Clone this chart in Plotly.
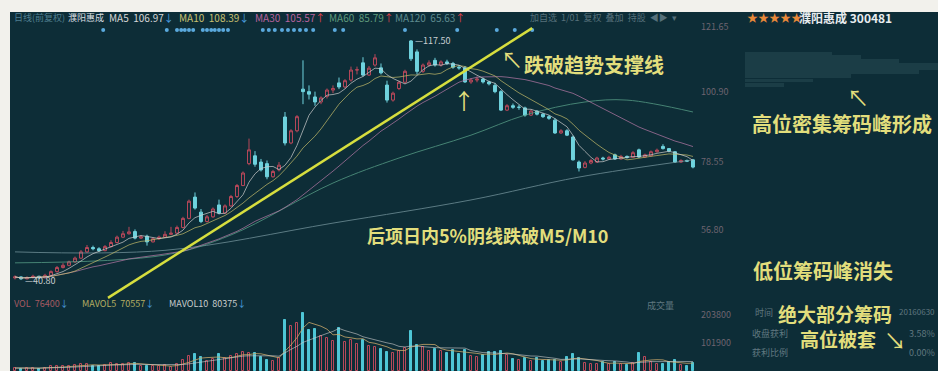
import plotly.graph_objects as go
import pandas as pd

# ---------------- data ----------------
OPEN = [41.5,41.8,41.2,41.6,42.0,41.5,42.3,43.5,44.8,45.5,46.6,47.8,49.8,51.2,50.8,50.2,51.5,52.8,54.5,55.6,
        56.3,54.2,54.8,53.0,54.0,54.5,55.4,55.8,57.6,60.5,67.3,62.5,59.5,61.0,64.8,62.2,64.5,67.5,71.0,78.0,
        80.5,78.5,78.0,73.8,76.0,92.9,84.6,88.5,101.8,101.0,99.3,97.7,99.5,101.5,103.8,102.5,104.7,107.9,110.2,106.3,
        109.5,108.6,103.1,98.3,102.0,104.0,117.2,113.7,107.5,109.5,111.0,109.5,110.5,110.0,108.8,108.6,104.1,104.7,105.0,104.1,
        103.0,101.0,95.1,96.5,96.0,95.8,93.5,94.8,93.8,93.0,91.9,87.8,88.5,86.5,78.5,76.8,78.2,78.5,79.8,79.5,
        80.8,79.5,80.3,80.0,82.4,80.1,80.5,81.8,83.5,82.8,81.8,78.5,79.0,79.2]
HIGH = [42.3,42.0,42.0,42.5,42.2,42.8,43.9,45.3,46.2,47.0,48.3,50.4,52.0,51.8,51.3,52.0,53.5,55.0,56.5,57.8,
        57.0,55.2,55.3,54.4,55.0,56.4,57.8,58.2,61.0,66.5,68.8,63.5,61.6,64.0,66.5,65.0,68.0,71.5,75.5,86.0,
        82.0,79.5,79.0,76.0,78.5,94.5,89.0,93.5,111.0,103.0,101.0,99.5,102.0,103.0,105.5,105.0,109.0,109.0,112.0,109.2,
        113.0,110.0,104.5,101.0,104.5,108.0,117.5,114.5,110.0,111.0,111.8,111.0,111.2,110.5,109.5,109.2,105.3,105.8,105.5,104.5,
        103.8,101.5,97.0,97.2,96.8,96.2,95.3,95.0,94.2,93.5,92.5,89.0,89.0,87.0,79.0,78.8,79.5,80.2,80.2,80.5,
        81.2,80.8,80.6,82.0,82.8,81.2,82.2,82.8,84.2,83.0,82.0,79.4,79.3,79.5]
LOW = [41.0,40.8,41.0,41.3,41.2,41.4,42.1,43.2,44.5,45.2,46.3,47.6,49.5,50.3,49.8,50.0,51.2,52.5,54.2,55.3,
       53.8,53.9,51.8,52.8,53.6,54.3,55.2,55.5,57.3,60.2,63.3,59.0,59.2,60.7,61.8,62.0,64.2,67.0,70.8,77.5,
       77.0,75.5,73.0,73.5,75.5,83.8,84.2,88.0,97.0,98.5,96.5,97.0,98.8,100.5,101.8,102.0,104.2,106.5,105.8,106.0,
       109.0,106.5,97.5,97.8,101.5,103.5,110.8,106.5,107.0,109.0,109.0,109.0,109.5,108.3,108.0,103.8,103.5,104.0,103.6,103.0,
       100.5,94.8,94.8,95.5,95.2,93.0,93.2,93.4,92.6,92.0,87.5,87.5,86.8,79.0,75.5,76.5,77.8,78.2,79.0,79.2,
       79.2,79.3,79.6,79.8,79.8,79.9,80.3,81.5,82.5,81.6,78.2,78.2,78.5,76.5]
CLOSE = [41.8,41.2,41.6,42.0,41.5,42.3,43.5,44.8,45.5,46.6,47.8,49.8,51.2,50.8,50.2,51.5,52.8,54.5,55.6,56.2,
         54.2,54.6,53.0,54.0,54.5,55.4,55.8,57.6,60.5,66.0,63.8,59.5,61.0,63.5,62.2,64.5,67.5,71.0,75.0,82.4,
         77.8,76.0,73.8,75.5,77.5,84.6,88.5,93.0,101.0,100.2,97.7,99.0,101.5,102.0,102.5,104.5,107.9,108.0,106.3,108.5,
         111.8,107.0,98.3,100.5,104.0,107.5,111.5,107.5,109.5,110.2,109.5,110.5,110.0,108.8,108.6,104.1,104.7,105.0,104.1,103.5,
         101.0,95.1,96.5,96.0,96.0,93.5,94.8,93.8,93.0,92.5,87.8,88.5,87.1,79.2,76.6,78.2,79.0,79.8,79.5,80.0,
         79.5,80.3,80.0,81.5,80.1,80.8,81.8,82.3,82.8,82.0,78.5,79.0,78.8,76.9]
VOLUME = [10900,9100,10000,12700,9100,11800,16400,18200,16400,20000,21800,25500,27300,18200,16400,21800,29100,25500,27300,29100,
          29100,20000,18200,16400,18200,21800,14600,27300,40000,54600,61900,51000,36400,43700,61900,47300,54600,61900,69200,65500,
          65500,51000,40000,36400,47300,185600,163800,174700,211100,149200,152900,127400,120100,109200,156500,105600,112800,100100,112800,91000,
          87400,80100,69200,65500,72800,83700,145600,94600,87400,72800,80100,72800,65500,76400,61900,76400,54600,51000,58200,69200,
          69200,72800,58200,43700,40000,47300,36400,47300,36400,40000,40000,32800,51000,61900,47300,29100,25500,27300,32800,25500,
          32800,23700,21800,29100,65500,51000,32800,27300,25500,32800,40000,21800,20000,29100]

MA60_IDX = [0, 25, 36, 53, 64, 76, 85, 95, 102, 113]
MA60_VAL = [46.3, 48.8, 55.2, 71.8, 79.8, 87.1, 93.5, 97.7, 98.3, 94.5]
MA120_IDX = [0, 25, 53, 76, 94, 113]
MA120_VAL = [49.8, 50.3, 59.0, 66.4, 73.7, 79.2]

SIGNAL_IDX = [14.7, 25.3, 27.0, 27.7, 28.3, 29.0, 29.7, 31.3, 32.0, 32.7, 33.3, 34.0, 34.7, 35.5,
              41.3, 42.3, 43.3, 44.5, 45.5, 46.5, 47.5, 48.5, 49.7, 53.3, 54.7, 65.0, 73.7, 80.3, 83.3, 86.2]
SIGNAL_LEVEL = 120.7

TREND_IDX = [15.5, 86.2]
TREND_PRICE = [35.1, 121.3]

CHIP_PRICE = [113.2, 112.0, 110.8, 109.6, 108.4, 107.2, 106.0, 104.6, 103.2]
CHIP_LEN = [0.45, 0.6, 0.8, 1.0, 1.0, 0.9, 0.55, 0.35, 0.2]

PRICE_TICKS = [121.65, 100.90, 78.55, 56.80]
VOL_TICKS = [203800, 101900]

HIGH_LABEL = "117.50"
LOW_LABEL = "40.80"

# ---------------- derived ----------------
X = list(range(len(CLOSE)))
cs = pd.Series(CLOSE)
ma5 = cs.rolling(5, min_periods=1).mean()
ma10 = cs.rolling(10, min_periods=1).mean()
ma30 = cs.rolling(30, min_periods=1).mean()
vs = pd.Series(VOLUME)
mavol5 = vs.rolling(5, min_periods=1).mean()
mavol10 = vs.rolling(10, min_periods=1).mean()

BG = "#0d2d37"
CYAN = "#6fd3de"
RED = "#b8485a"
YEL = "#e2de7c"
FONT = "Noto Sans CJK SC, Liberation Sans, sans-serif"

W, H = 938, 371
ML, MT = 10, 12
PW, PH = W - ML, H - MT


def px(x, y):
    return (x - ML) / PW, 1 - (y - MT) / PH


up = [c >= o for o, c in zip(OPEN, CLOSE)]
vol_fill = [BG if u else "#4ec6d6" for u in up]
vol_line = [RED if u else "#4ec6d6" for u in up]

fig = go.Figure()

# chip distribution (right panel)
fig.add_trace(go.Bar(x=CHIP_LEN, y=CHIP_PRICE, orientation="h", xaxis="x3", yaxis="y",
                     marker=dict(color="rgba(125,170,180,0.13)", line=dict(width=0)), width=1.15,
                     hoverinfo="skip"))

# moving averages
fig.add_trace(go.Scatter(x=MA120_IDX, y=MA120_VAL, mode="lines", line=dict(color="#7c9ca4", width=1, shape="spline"), opacity=0.7))
fig.add_trace(go.Scatter(x=MA60_IDX, y=MA60_VAL, mode="lines", line=dict(color="#5ea88e", width=1, shape="spline"), opacity=0.7))
fig.add_trace(go.Scatter(x=X, y=ma30, mode="lines", line=dict(color="#b87aa8", width=1), opacity=0.7))
fig.add_trace(go.Scatter(x=X, y=ma10, mode="lines", line=dict(color="#c4bc6a", width=1), opacity=0.7))
fig.add_trace(go.Scatter(x=X, y=ma5, mode="lines", line=dict(color="#cfcfcf", width=1), opacity=0.7))

# candles
fig.add_trace(go.Candlestick(x=X, open=OPEN, high=HIGH, low=LOW, close=CLOSE,
                             increasing=dict(line=dict(color=RED, width=1), fillcolor=BG),
                             decreasing=dict(line=dict(color=CYAN, width=1), fillcolor=CYAN),
                             whiskerwidth=0, hoverinfo="skip"))

# signal dots
fig.add_trace(go.Scatter(x=SIGNAL_IDX, y=[SIGNAL_LEVEL] * len(SIGNAL_IDX), mode="markers",
                         marker=dict(color="#5aa9dd", size=4)))

# trend line
fig.add_trace(go.Scatter(x=TREND_IDX, y=TREND_PRICE, mode="lines", line=dict(color="#d6de3e", width=2.5)))

# volume
fig.add_trace(go.Bar(x=X, y=VOLUME, xaxis="x2", yaxis="y2", width=0.45,
                     marker=dict(color=vol_fill, line=dict(color=vol_line, width=1))))
fig.add_trace(go.Scatter(x=X, y=mavol5, xaxis="x2", yaxis="y2", mode="lines", line=dict(color="#c9a86a", width=1), opacity=0.8))
fig.add_trace(go.Scatter(x=X, y=mavol10, xaxis="x2", yaxis="y2", mode="lines", line=dict(color="#d0d0d0", width=1), opacity=0.6))

xr = [-0.833, 114.17]
dom_x = [0, (700 - ML) / PW]
yp_top = px(0, 20)[1]
yp_sep = px(0, 300)[1]

fig.update_layout(
    width=W, height=H,
    margin=dict(l=ML, r=0, t=MT, b=0),
    paper_bgcolor="#f2f1ec", plot_bgcolor=BG,
    showlegend=False, bargap=0,
    xaxis=dict(domain=dom_x, range=xr, visible=False, rangeslider=dict(visible=False), anchor="y"),
    xaxis2=dict(domain=dom_x, range=xr, visible=False, anchor="y2", matches="x"),
    xaxis3=dict(domain=[(745 - ML) / PW, 1], range=[0, 1], visible=False, anchor="y"),
    yaxis=dict(domain=[yp_sep, yp_top], range=[34.43, 123.89], side="right", anchor="x",
               showgrid=False, zeroline=False, tickvals=PRICE_TICKS,
               ticktext=[f"{v:.2f}" for v in PRICE_TICKS],
               tickfont=dict(size=9, color="#6d6470", family=FONT), ticks=""),
    yaxis2=dict(domain=[0, yp_sep], range=[0, 258440], side="right", anchor="x2",
                showgrid=False, zeroline=False, tickvals=VOL_TICKS,
                ticktext=[str(v) for v in VOL_TICKS],
                tickfont=dict(size=9, color="#6d6470", family=FONT), ticks=""),
    font=dict(family=FONT),
)

# dark panel background
fig.add_shape(type="rect", xref="paper", yref="paper", x0=0, x1=1, y0=0, y1=1,
              fillcolor=BG, line=dict(width=0), layer="below")

ann = []


def text(s, x, y, size=10, color="#cccccc", anchor="left", weight="normal", valign="middle"):
    xp, yp = px(x, y)
    ann.append(dict(text=s, x=xp, y=yp, xref="paper", yref="paper", showarrow=False,
                    xanchor=anchor, yanchor=valign,
                    font=dict(size=size, color=color, family=FONT, weight=weight)))


DN = "<span style='color:#4a9fe0'>↓</span>"
UP = "<span style='color:#e0404a'>↑</span>"
# header
text("日线(前复权)", 12, 17, 9, "#4f7f90")
text("濮阳惠成", 66, 17, 9, "#d8dde0")
text("MA5  106.97" + DN, 107, 17, 10, "#d6d6d6")
text("MA10  108.39" + DN, 177, 17, 10, "#c8c070")
text("MA30  105.57" + UP, 253, 17, 10, "#b8629e")
text("MA60  85.79" + UP, 327, 17, 10, "#5f9a7c")
text("MA120  65.63" + UP, 393, 17, 10, "#5d8a8e")
text("加自选  1/01  复权  叠加  持股  ◀▶  ▾", 528, 17, 9, "#56707a")
text("★★★★★", 745, 17, 11, "#e8893a")
text("濮阳惠成 300481", 797, 17, 12, "#e8ecef", weight="bold")

# price high / low labels
ann.append(dict(text="—" + HIGH_LABEL, x=66, y=117.5, xref="x", yref="y", showarrow=False,
                xanchor="left", yanchor="middle", xshift=2, font=dict(size=9, color="#c8cfd2", family=FONT)))
ann.append(dict(text="—" + LOW_LABEL, x=1, y=40.8, xref="x", yref="y", showarrow=False,
                xanchor="left", yanchor="middle", xshift=2, font=dict(size=9, color="#c8cfd2", family=FONT)))

# volume header
text("VOL  76400" + DN, 12, 303, 9, "#a45a62")
text("MAVOL5  70557" + DN, 80, 303, 9, "#b6ae62")
text("MAVOL10  80375" + DN, 167, 303, 9, "#c8cccc")
text("成交量", 645, 305, 9, "#607880")

# chip info
text("时间", 753, 312, 9, "#607880")
text("收盘获利", 750, 333, 9, "#607880")
text("获利比例", 750, 352, 9, "#607880")
text("20160630", 937, 311, 8, "#607880", anchor="right")
text("3.58%", 937, 333, 9, "#607880", anchor="right")
text("0.00%", 937, 352, 9, "#607880", anchor="right")

# commentary
text("跌破趋势支撑线", 594, 64, 20, YEL, anchor="center", weight="bold")
text("↖", 512, 58, 22, YEL, anchor="center")
text("↑", 464, 99, 22, YEL, anchor="center")
text("高位密集筹码峰形成", 842, 123, 20, YEL, anchor="center", weight="bold")
text("↖", 858, 96, 22, YEL, anchor="center")
text("后项日内5%阴线跌破M5/M10", 488, 235, 18, YEL, anchor="center", weight="bold")
text("低位筹码峰消失", 823, 270, 20, YEL, anchor="center", weight="bold")
text("绝大部分筹码", 835, 313, 19, YEL, anchor="center", weight="bold")
text("高位被套", 838, 338, 19, YEL, anchor="center", weight="bold")
text("↘", 895, 339, 22, YEL, anchor="center")

fig.update_layout(annotations=ann)

fig.write_html("out.html", config={"displayModeBar": False},
               post_script="document.body.style.margin='0px';document.body.style.padding='0px';")
